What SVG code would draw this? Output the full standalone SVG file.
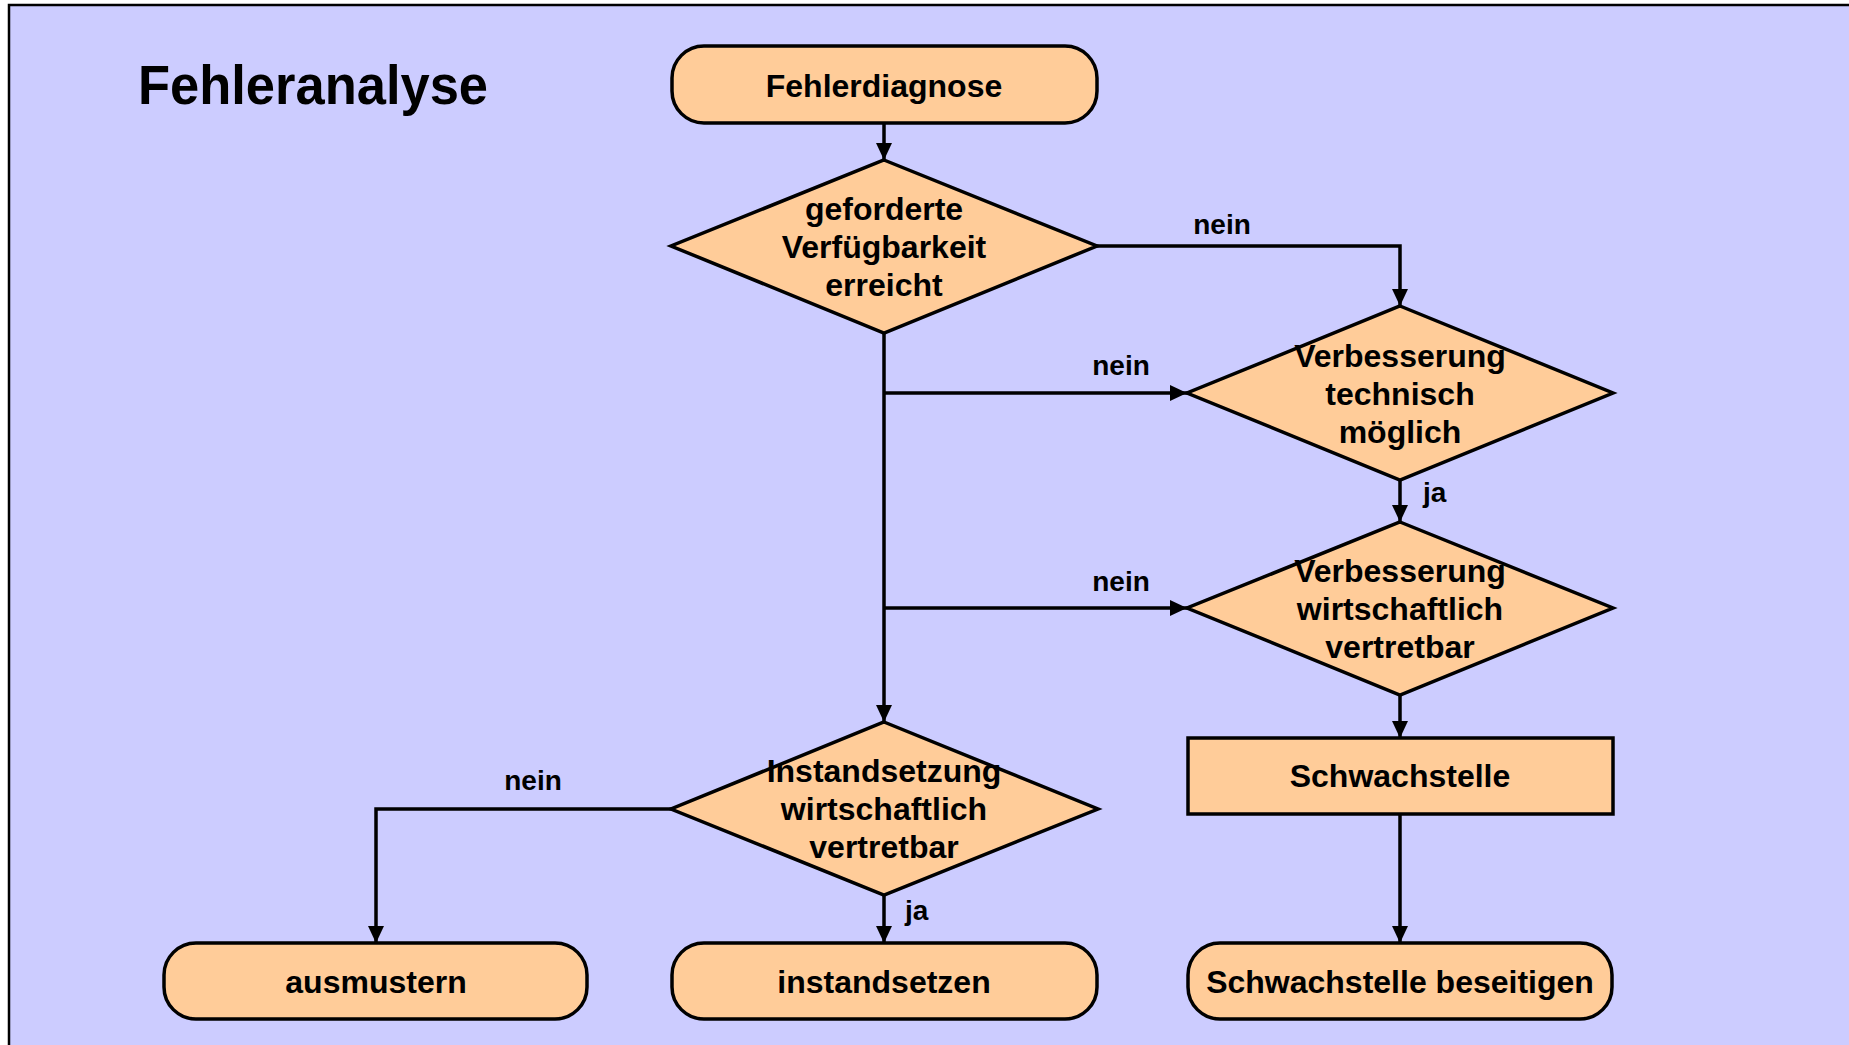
<svg xmlns="http://www.w3.org/2000/svg" width="1849" height="1045" viewBox="0 0 1849 1045">
<style>
.bg{fill:#CCCCFF;stroke:#000;stroke-width:2.5}
.n{fill:#FFCC99;stroke:#000;stroke-width:3.5}
.t{font-family:"Liberation Sans",Arial,Helvetica,sans-serif;font-weight:bold;font-size:32px;fill:#000;text-anchor:middle}
.l{font-family:"Liberation Sans",Arial,Helvetica,sans-serif;font-weight:bold;font-size:28px;fill:#000}
.c{fill:none;stroke:#000;stroke-width:3.5}
</style>
<defs>
<marker id="ah" markerUnits="userSpaceOnUse" markerWidth="18" markerHeight="16" refX="17" refY="8" orient="auto">
<path d="M0,0 L17,8 L0,16 z" fill="#000"/>
</marker>
</defs>
<rect class="bg" x="9" y="5" width="1900" height="1100"/>
<text x="138" y="104" font-family="'Liberation Sans',Arial,sans-serif" font-weight="bold" font-size="55" textLength="350" lengthAdjust="spacingAndGlyphs">Fehleranalyse</text>

<g id="connectors">
<path class="c" d="M884,123 V160" marker-end="url(#ah)"/>
<path class="c" d="M1097,246 H1400 V306" marker-end="url(#ah)"/>
<path class="c" d="M884,333 V722" marker-end="url(#ah)"/>
<path class="c" d="M884,393 H1187" marker-end="url(#ah)"/>
<path class="c" d="M1400,480 V522" marker-end="url(#ah)"/>
<path class="c" d="M884,608 H1187" marker-end="url(#ah)"/>
<path class="c" d="M1400,695 V738" marker-end="url(#ah)"/>
<path class="c" d="M1400,814 V943" marker-end="url(#ah)"/>
<path class="c" d="M671,809 H376 V943" marker-end="url(#ah)"/>
<path class="c" d="M884,895 V943" marker-end="url(#ah)"/>
<text class="l" x="1222" y="234" text-anchor="middle">nein</text>
<text class="l" x="1121" y="375" text-anchor="middle">nein</text>
<text class="l" x="1423" y="502">ja</text>
<text class="l" x="1121" y="591" text-anchor="middle">nein</text>
<text class="l" x="533" y="790" text-anchor="middle">nein</text>
<text class="l" x="905" y="920">ja</text>
</g>

<g id="fehlerdiagnose">
<rect class="n" x="672" y="46" width="425" height="77" rx="32" ry="32"/>
<text class="t" x="884" y="97">Fehlerdiagnose</text>
</g>

<g id="verfuegbarkeit">
<polygon class="n" points="884,160 1097,246 884,333 671,246"/>
<text class="t" x="884" y="220">geforderte</text>
<text class="t" x="884" y="258">Verfügbarkeit</text>
<text class="t" x="884" y="296">erreicht</text>
</g>

<g id="verbesserung-technisch">
<polygon class="n" points="1400,306 1613,393 1400,480 1187,393"/>
<text class="t" x="1400" y="367">Verbesserung</text>
<text class="t" x="1400" y="405">technisch</text>
<text class="t" x="1400" y="443">möglich</text>
</g>

<g id="verbesserung-wirtschaftlich">
<polygon class="n" points="1400,522 1613,608 1400,695 1187,608"/>
<text class="t" x="1400" y="582">Verbesserung</text>
<text class="t" x="1400" y="620">wirtschaftlich</text>
<text class="t" x="1400" y="658">vertretbar</text>
</g>

<g id="schwachstelle">
<rect class="n" x="1188" y="738" width="425" height="76"/>
<text class="t" x="1400" y="787">Schwachstelle</text>
</g>

<g id="instandsetzung">
<polygon class="n" points="884,722 1098,809 884,895 671,809"/>
<text class="t" x="884" y="782">Instandsetzung</text>
<text class="t" x="884" y="820">wirtschaftlich</text>
<text class="t" x="884" y="858">vertretbar</text>
</g>

<g id="ausmustern">
<rect class="n" x="164" y="943" width="423" height="76" rx="32" ry="32"/>
<text class="t" x="376" y="993">ausmustern</text>
</g>

<g id="instandsetzen">
<rect class="n" x="672" y="943" width="425" height="76" rx="32" ry="32"/>
<text class="t" x="884" y="993">instandsetzen</text>
</g>

<g id="schwachstelle-beseitigen">
<rect class="n" x="1188" y="943" width="424" height="76" rx="32" ry="32"/>
<text class="t" x="1400" y="993">Schwachstelle beseitigen</text>
</g>
</svg>
